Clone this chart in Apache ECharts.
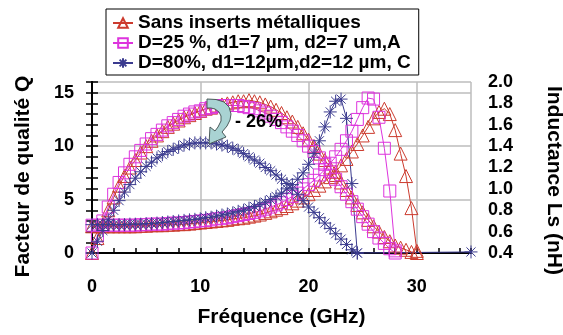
<!DOCTYPE html>
<html>
<head>
<meta charset="utf-8">
<script src="https://cdn.jsdelivr.net/npm/echarts@6/dist/echarts.min.js"></script>
<style>
html, body { margin: 0; padding: 0; background: #fff; }
#chart { width: 563px; height: 335px; }
</style>
</head>
<body>
<div id="chart"></div>
<script>
// frequences (GHz), pas de 0.5
var freq = [0, 0.5, 1, 1.5, 2, 2.5, 3, 3.5, 4, 4.5, 5, 5.5, 6, 6.5, 7, 7.5, 8, 8.5, 9, 9.5,
	10, 10.5, 11, 11.5, 12, 12.5, 13, 13.5, 14, 14.5, 15, 15.5, 16, 16.5, 17, 17.5, 18, 18.5, 19, 19.5,
	20, 20.5, 21, 21.5, 22, 22.5, 23, 23.5, 24, 24.5, 25, 25.5, 26, 26.5, 27, 27.5, 28, 28.5, 29, 29.5, 30];

// sans inserts
var qRef = [0, 1.4, 2.7, 4.0, 5.2, 6.3, 7.2, 8.0, 8.7, 9.4, 10.0, 10.5, 11.0, 11.4, 11.8, 12.1, 12.4, 12.7, 12.9, 13.1,
	13.3, 13.5, 13.6, 13.8, 13.9, 14.0, 14.1, 14.2, 14.2, 14.3, 14.2, 14.1, 13.9, 13.7, 13.4, 13.1, 12.7, 12.3, 11.8, 11.2,
	10.6, 10.0, 9.3, 8.7, 8.0, 7.3, 6.6, 5.9, 5.2, 4.5, 3.8, 3.1, 2.5, 2.0, 1.5, 1.1, 0.7, 0.5, 0.3, 0.1, 0];
var lsRef = [0.65, 0.65, 0.65, 0.65, 0.65, 0.65, 0.65, 0.65, 0.65, 0.655, 0.655, 0.66, 0.66, 0.66, 0.665, 0.665, 0.67, 0.67, 0.675, 0.68,
	0.685, 0.69, 0.695, 0.70, 0.705, 0.71, 0.72, 0.725, 0.73, 0.74, 0.75, 0.76, 0.775, 0.79, 0.805, 0.82, 0.84, 0.865, 0.89, 0.92,
	0.95, 0.99, 1.03, 1.07, 1.11, 1.16, 1.22, 1.28, 1.35, 1.42, 1.50, 1.58, 1.66, 1.72, 1.75, 1.70, 1.55, 1.33, 1.12, 0.82, 0.42];

// D=25 %, A
var qA = [0, 1.6, 3.0, 4.3, 5.5, 6.6, 7.5, 8.3, 9.0, 9.6, 10.2, 10.7, 11.1, 11.5, 11.9, 12.2, 12.5, 12.8, 13.0, 13.2,
	13.3, 13.5, 13.6, 13.7, 13.8, 13.8, 13.8, 13.8, 13.7, 13.6, 13.5, 13.3, 13.1, 12.8, 12.5, 12.2, 11.8, 11.4, 11.0, 10.5,
	10.0, 9.5, 8.9, 8.3, 7.6, 6.9, 6.2, 5.5, 4.8, 4.1, 3.4, 2.7, 2.0, 1.4, 0.9, 0.4, 0];
var lsA = [0.66, 0.66, 0.66, 0.66, 0.66, 0.66, 0.66, 0.66, 0.66, 0.665, 0.665, 0.67, 0.67, 0.67, 0.675, 0.68, 0.68, 0.685, 0.69, 0.695,
	0.70, 0.705, 0.71, 0.72, 0.725, 0.73, 0.74, 0.75, 0.76, 0.77, 0.78, 0.795, 0.81, 0.83, 0.85, 0.87, 0.90, 0.93, 0.96, 1.00,
	1.04, 1.08, 1.13, 1.18, 1.24, 1.30, 1.37, 1.45, 1.54, 1.65, 1.76, 1.85, 1.84, 1.67, 1.38, 0.98, 0.42];

// D=80 %, C
var qC = [0, 1.1, 2.1, 3.1, 4.0, 4.9, 5.7, 6.4, 7.0, 7.6, 8.1, 8.5, 8.9, 9.2, 9.5, 9.7, 9.9, 10.1, 10.2, 10.3,
	10.3, 10.3, 10.3, 10.2, 10.1, 10.0, 9.8, 9.6, 9.3, 9.0, 8.7, 8.4, 8.0, 7.7, 7.3, 6.9, 6.5, 6.0, 5.5, 4.9,
	4.3, 3.8, 3.3, 2.8, 2.3, 1.8, 1.3, 0.8, 0.3, 0];
var lsC = [0.665, 0.665, 0.665, 0.665, 0.665, 0.665, 0.665, 0.67, 0.67, 0.67, 0.675, 0.675, 0.68, 0.685, 0.69, 0.695, 0.70, 0.705, 0.71, 0.715,
	0.72, 0.73, 0.735, 0.745, 0.755, 0.765, 0.775, 0.79, 0.80, 0.82, 0.835, 0.855, 0.875, 0.90, 0.93, 0.96, 1.00, 1.04, 1.09, 1.15,
	1.23, 1.33, 1.45, 1.58, 1.72, 1.82, 1.84, 1.66, 1.05, 0.40];
var freqCTail = [35];
var lsCTail = [0.41];

var names = ['Sans inserts métalliques', 'D=25 %, d1=7 µm, d2=7 um,A', 'D=80%, d1=12µm,d2=12 µm, C'];
var colors = ['#cc3b2e', '#dd33dd', '#3b3b8f'];
var asterisk = 'path://M0,5L10,5M5,0L5,10M1.5,1.5L8.5,8.5M8.5,1.5L1.5,8.5';

var FONT = 'Liberation Sans';

function pairs(vals) {
	var out = [];
	for (var i = 0; i < vals.length; i++) {
		out.push([freq[i], vals[i]]);
	}
	return out;
}

function makeSeries(name, data, yIdx, color, symbol, size) {
	return {
		name : name,
		type : 'line',
		yAxisIndex : yIdx,
		data : data,
		symbol : symbol,
		symbolSize : size,
		showAllSymbol : true,
		clip : false,
		lineStyle : {
			color : color,
			width : 1
		},
		itemStyle : {
			color : 'rgba(0,0,0,0)',
			borderColor : color,
			borderWidth : 1
		},
		emphasis : {
			disabled : true
		}
	};
}

var tailC = pairs(lsC);
for (var k = 0; k < freqCTail.length; k++) {
	tailC.push([freqCTail[k], lsCTail[k]]);
}

// fleche courbe (-26%)
var arrowPts = [[207,99],[216,99.5],[224,102],[229,107],[231,114],[230,120],[227,126],[222,132],
	[226,137],[209,144],[210,127],[215,131],[218,127],[221,121],[221,116],[219,112],[215,109],[211,108],[207,108]];

var myChart = echarts.init(document.getElementById('chart'));
var option = {
	animation : false,
	backgroundColor : '#fff',
	grid : {
		left : 92,
		right : 92,
		top : 82,
		bottom : 82,
		outerBoundsMode : 'none',
		containLabel : false
	},
	legend : {
		orient : 'vertical',
		left : 106,
		top : 9,
		itemWidth : 20,
		itemHeight : 12,
		itemGap : 0,
		padding : [ 4, 8, 2, 6 ],
		backgroundColor : '#fff',
		borderColor : '#000',
		borderWidth : 1,
		textStyle : {
			fontFamily : FONT,
			fontWeight : 'bold',
			fontSize : 19,
			lineHeight : 20,
			color : '#000'
		},
		data : names
	},
	xAxis : [ {
		type : 'value',
		min : 0,
		max : 35,
		interval : 2,
		name : 'Fréquence (GHz)',
		nameLocation : 'middle',
		nameGap : 54,
		nameTextStyle : {
			fontFamily : FONT,
			fontWeight : 'bold',
			fontSize : 21,
			color : '#000'
		},
		axisLine : {
			lineStyle : { color : '#000', width : 2 }
		},
		axisTick : {
			inside : true,
			length : 5,
			lineStyle : { color : '#000', width : 1.5 }
		},
		axisLabel : {
			margin : 25,
			fontFamily : FONT,
			fontWeight : 'bold',
			fontSize : 18,
			color : '#000',
			formatter : function(v) {
				return (v % 10 === 0) ? String(v) : '';
			}
		},
		splitLine : { show : false }
	}, {
		type : 'value',
		min : 0,
		max : 35,
		interval : 10,
		axisLine : { show : false },
		axisTick : { show : false },
		axisLabel : { show : false },
		splitLine : {
			show : true,
			lineStyle : { color : '#bdbdbd', width : 1.5 }
		}
	} ],
	yAxis : [ {
		type : 'value',
		position : 'left',
		min : 0,
		max : 16,
		interval : 1,
		name : 'Facteur de qualité Q',
		nameLocation : 'middle',
		nameRotate : 90,
		nameGap : 58,
		nameTextStyle : {
			fontFamily : FONT,
			fontWeight : 'bold',
			fontSize : 21,
			color : '#000',
			padding : [ 0, 18, 0, 0 ]
		},
		axisLine : {
			show : true,
			lineStyle : { color : '#000', width : 2 }
		},
		axisTick : {
			inside : true,
			length : 6,
			lineStyle : { color : '#000', width : 1.5 }
		},
		axisLabel : {
			margin : 18,
			fontFamily : FONT,
			fontWeight : 'bold',
			fontSize : 18,
			color : '#000',
			formatter : function(v) {
				return (v % 5 === 0 && v < 16) ? String(v) : '';
			}
		},
		splitLine : { show : false }
	}, {
		type : 'value',
		position : 'right',
		min : 0.4,
		max : 2.0,
		interval : 0.1,
		name : 'Inductance Ls (nH)',
		nameLocation : 'middle',
		nameRotate : -90,
		nameGap : 72,
		nameTextStyle : {
			fontFamily : FONT,
			fontWeight : 'bold',
			fontSize : 21,
			color : '#000',
			padding : [ 0, 0, 0, 26 ]
		},
		axisLine : {
			show : true,
			lineStyle : { color : '#000', width : 2 }
		},
		axisTick : {
			inside : true,
			length : 6,
			lineStyle : { color : '#000', width : 1.5 }
		},
		axisLabel : {
			margin : 17,
			fontFamily : FONT,
			fontWeight : 'bold',
			fontSize : 18,
			color : '#000',
			formatter : function(v) {
				var t = Math.round(v * 10);
				return (t % 2 === 0) ? (t / 10).toFixed(1) : '';
			}
		},
		splitLine : { show : false }
	}, {
		type : 'value',
		position : 'left',
		min : 0,
		max : 16,
		interval : 5,
		axisLine : { show : false },
		axisTick : { show : false },
		axisLabel : { show : false },
		splitLine : {
			show : true,
			lineStyle : { color : '#bdbdbd', width : 1.5 }
		}
	} ],
	graphic : [ {
		type : 'polygon',
		shape : {
			points : arrowPts
		},
		style : {
			fill : '#a9d3d3',
			stroke : '#4a5a5a',
			lineWidth : 1
		},
		z : 100
	}, {
		type : 'text',
		left : 235,
		top : 113,
		style : {
			text : '- 26%',
			fontFamily : FONT,
			fontWeight : 'bold',
			fontSize : 18,
			fill : '#000'
		},
		z : 100
	} ],
	series : [
		makeSeries(names[0], pairs(qRef), 0, colors[0], 'triangle', 13),
		makeSeries(names[0], pairs(lsRef), 1, colors[0], 'triangle', 13),
		makeSeries(names[1], pairs(qA), 0, colors[1], 'rect', 12),
		makeSeries(names[1], pairs(lsA), 1, colors[1], 'rect', 12),
		makeSeries(names[2], pairs(qC), 0, colors[2], asterisk, 13),
		makeSeries(names[2], tailC, 1, colors[2], asterisk, 13)
	]
};
myChart.setOption(option);
</script>
</body>
</html>
